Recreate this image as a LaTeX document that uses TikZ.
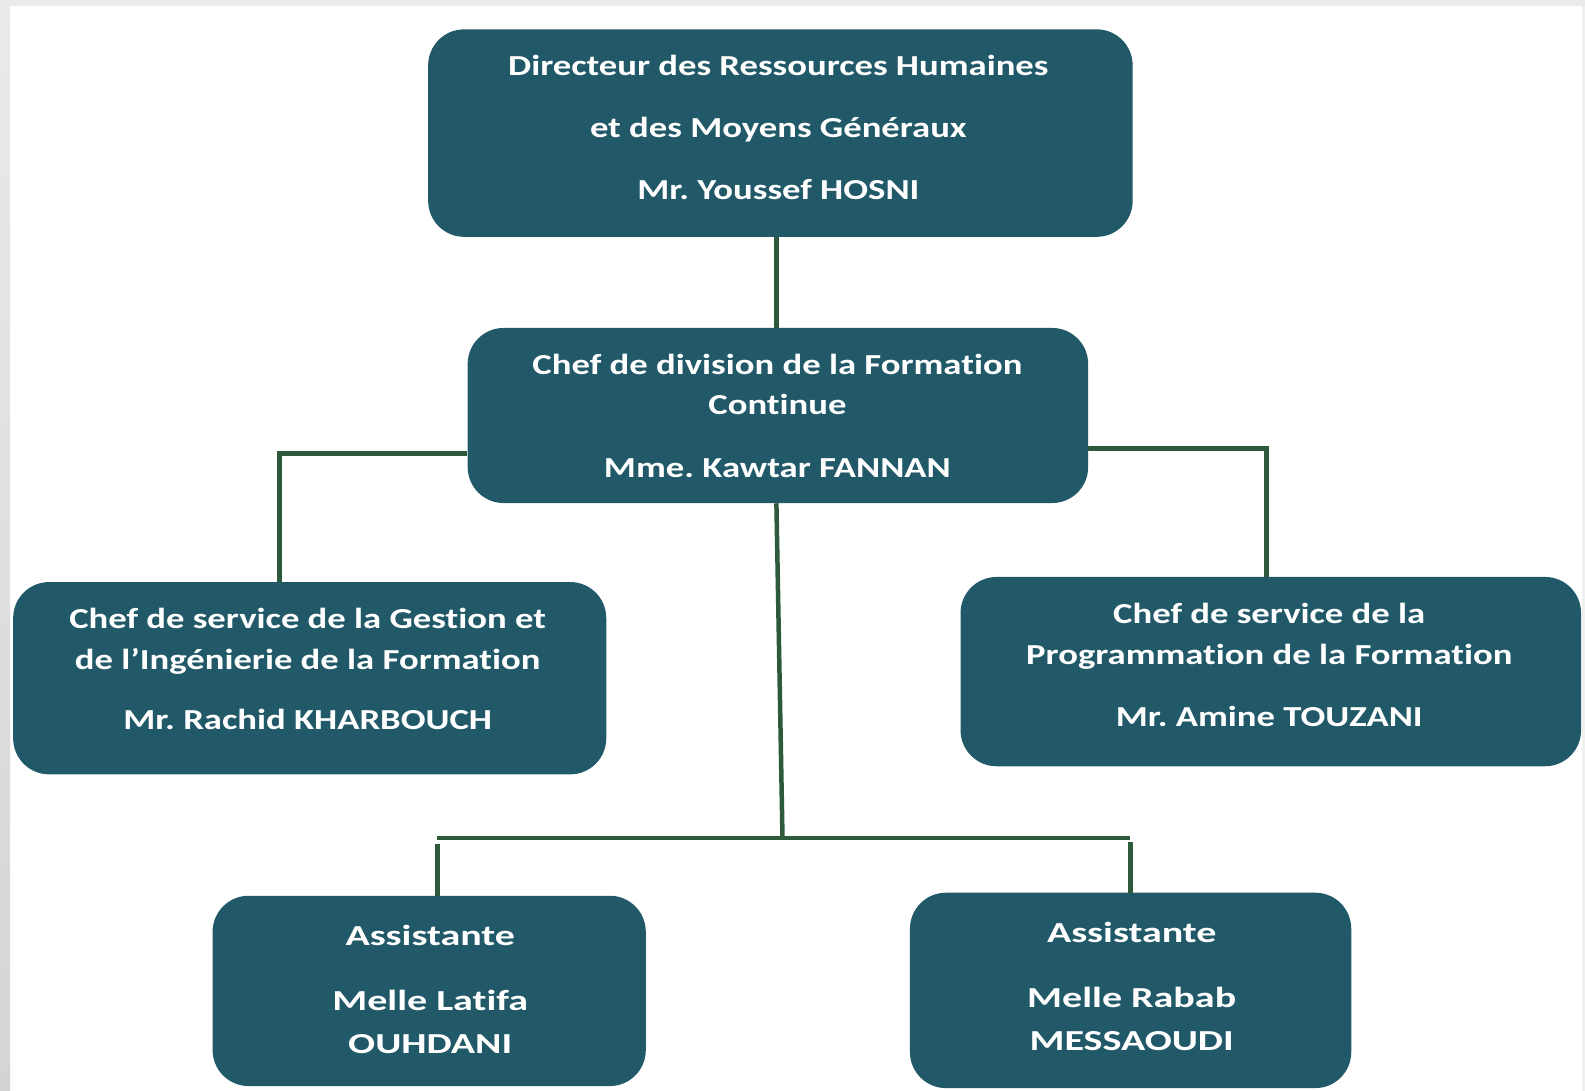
\documentclass[tikz,border=0pt]{standalone}
\usepackage{fontspec}
\setmainfont{Carlito}[RawFeature={-liga;-clig;-calt;-dlig}]
\newfontfamily\boxfont[FakeStretch=1.265,RawFeature={-liga;-clig;-calt;-dlig}]{Carlito}
\newfontfamily\widefont[FakeStretch=1.38,RawFeature={-liga;-clig;-calt;-dlig}]{Carlito}
\frenchspacing
\definecolor{boxfill}{RGB}{33,89,104}
\definecolor{linkgreen}{RGB}{44,90,58}
\definecolor{frameA}{RGB}{234,234,234}
\definecolor{frameB}{RGB}{212,212,212}
\tikzset{
  orgbox/.style={draw=none, fill=boxfill, rounded corners=36pt, inner sep=0pt},
  orgtext/.style={text=white, align=center, inner sep=0pt},
  link/.style={draw=linkgreen, line width=4.5pt}
}
\begin{document}
\begin{tikzpicture}[x=1pt,y=-1pt]
\useasboundingbox (0,0) rectangle (1585,1091);
% frame
\fill[white] (0,0) rectangle (1585,1091);
\shade[top color=frameA, bottom color=frameB] (0,0) rectangle (10,1091);
\fill[frameA] (0,0) rectangle (1585,6);
\fill[frameA!70!white] (1582,6) rectangle (1585,1091);

% boxes
\node[orgbox, minimum width=704.5pt, minimum height=207.5pt] (top) at (780.4,133.1) {};
\node[orgbox, minimum width=620.5pt, minimum height=175.1pt] (mid) at (777.9,415.5) {};
\node[orgbox, minimum width=593.1pt, minimum height=192.3pt] (left) at (309.7,678.2) {};
\node[orgbox, minimum width=620.5pt, minimum height=189.3pt] (right) at (1270.8,671.6) {};
\node[orgbox, minimum width=433.2pt, minimum height=190.3pt] (bl) at (429.2,990.9) {};
\node[orgbox, minimum width=441.3pt, minimum height=195.4pt] (br) at (1130.6,990.4) {};

% texts
\node[orgtext, font=\boxfont\bfseries\fontsize{29}{61.7}\selectfont] (ttop) at (778.4,127.5)
  {Directeur des Ressources Humaines\\et des Moyens Généraux\\Mr. Youssef HOSNI};
\node[orgtext, font=\boxfont\bfseries\fontsize{29}{39.5}\selectfont] (tmid) at (777.4,416)
  {Chef de division de la Forma{}tion\\Con{}tinue\\[23.3pt]Mme. Kawtar FANNAN};
\node[orgtext, font=\boxfont\bfseries\fontsize{29}{40.5}\selectfont] (tleft) at (307.7,669.1)
  {Chef de service de la Ges{}tion et\\de l’Ingénierie de la Forma{}tion\\[20pt]Mr. Rachid KHARBOUCH};
\node[orgtext, font=\boxfont\bfseries\fontsize{29}{40.5}\selectfont] (tright) at (1269.3,665)
  {Chef de service de la\\Programma{}tion de la Forma{}tion\\[22pt]Mr. Amine TOUZANI};
\node[orgtext, font=\widefont\bfseries\fontsize{29}{42.5}\selectfont] (tbl) at (430.2,989.4)
  {Assistante\\[23pt]Melle Latifa\\OUHDANI};
\node[orgtext, font=\widefont\bfseries\fontsize{29}{42.5}\selectfont] (tbr) at (1131.7,986.4)
  {Assistante\\[23pt]Melle Rabab\\MESSAOUDI};

% junctions
\coordinate (jl) at (279.4,453.5);
\coordinate (jr) at (1266.3,448.4);
\coordinate (midout) at (776.4,400);
\coordinate (barm) at (782.5,838.1);
\coordinate (barl) at (437.3,838.1);
\coordinate (barr) at (1129.6,838.1);
\coordinate (dl) at (437.3,844.2);
\coordinate (dr) at (1130.6,842.2);

% connectors
\draw[link] (top.south -| midout) -- (mid.north -| midout);
\draw[link] (mid.west |- jl) -- (jl) -- (jl |- left.north);
\draw[link] (mid.east |- jr) -- (jr) -- (jr |- right.north);
\draw[link] (mid.south -| midout) -- (barm);
\draw[link] (barl) -- (barr);
\draw[link] (dl) -- (dl |- bl.north);
\draw[link] (dr) -- (dr |- br.north);
\end{tikzpicture}
\end{document}
